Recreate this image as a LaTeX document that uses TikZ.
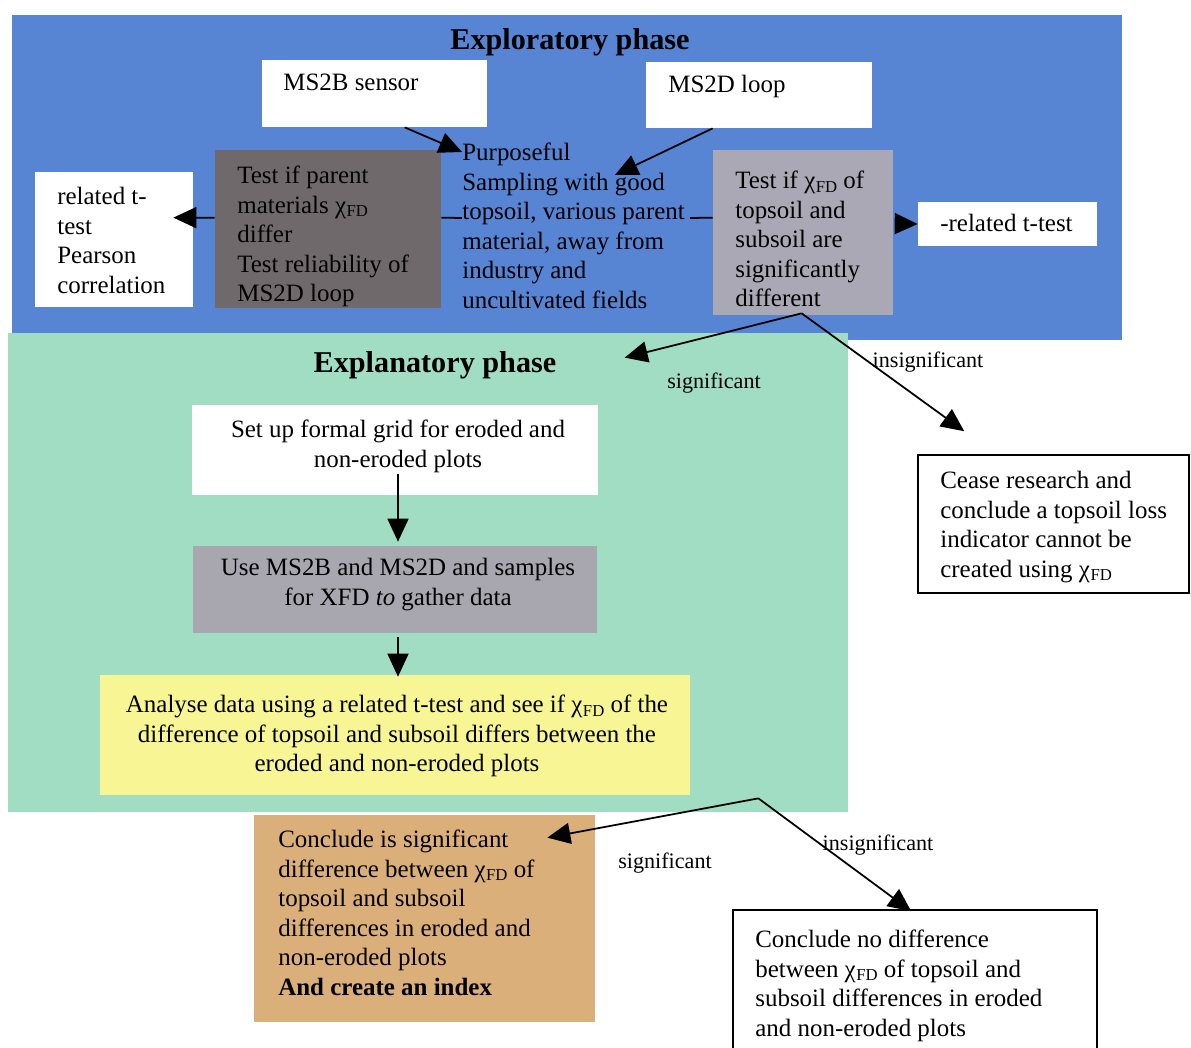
\documentclass[tikz,border=0pt]{standalone}
\usepackage{fontspec}
\setmainfont{Liberation Serif}
\usetikzlibrary{arrows.meta,fit,calc}

\definecolor{blueP}{RGB}{88,132,212}
\definecolor{greenP}{RGB}{161,221,194}
\definecolor{darkG}{RGB}{112,105,108}
\definecolor{lightG}{RGB}{170,168,180}
\definecolor{midG}{RGB}{168,167,176}
\definecolor{yellowP}{RGB}{248,245,148}
\definecolor{tanP}{RGB}{219,175,121}

% chi with FD subscript
\newcommand\chifd{χ\kern0.3pt\raisebox{-0.3ex}{\fontsize{9.5}{9.5}\selectfont FD}}

\begin{document}
\begin{tikzpicture}[x=0.02cm,y=-0.02cm,
  area/.style={inner sep=0, draw=none},
  box/.style={inner sep=0, draw=none},
  framed/.style={inner sep=0, draw=black, line width=0.9pt, fill=white},
  txt/.style={inner sep=0, anchor=north west, align=left, font=\fontsize{14.2}{16.8}\selectfont},
  ctxt/.style={inner sep=0, anchor=north, align=center, font=\fontsize{14.2}{16.8}\selectfont},
  title/.style={inner sep=0, font=\bfseries\fontsize{17.2}{20}\selectfont},
  lbl/.style={inner sep=0, font=\fontsize{12.6}{14}\selectfont},
  arr/.style={-{Triangle[length=0.46cm,width=0.42cm]}, line width=1pt},
  conn/.style={line width=1pt}]

\clip (0,0) rectangle (1191,1048);
\fill[white] (0,0) rectangle (1191,1048);

% phase panels
\node[area, fill=blueP, fit={(12,15) (1122,340)}] (explo) {};
\node[area, fill=greenP, fit={(8,333) (848,812)}] (expla) {};

\node[title] (t1) at (570,42) {Exploratory phase};
\node[title] (t2) at (435,365) {Explanatory phase};

% exploratory boxes
\node[box, fill=white, fit={(262,60) (487,127)}] (ms2b) {};
\node[txt] (ms2bT) at (283,74) {MS2B sensor};
\node[box, fill=white, fit={(646,62) (872,128)}] (ms2d) {};
\node[txt] (ms2dT) at (668,75) {MS2D loop};

\node[box, fill=darkG, fit={(215,150) (441,308)}] (parent) {};
\node[txt] (parentT) at (237,166) {Test if parent\\materials \chifd\\differ\\Test reliability of\\MS2D loop};

\node[box, fill=white, fit={(35,172) (193,307)}] (related) {};
\node[txt] (relatedT) at (57,187) {related t-\\test\\Pearson\\correlation};

\node[txt] (purp) at (462,143) {Purposeful\\Sampling with good\\topsoil, various parent\\material, away from\\industry and\\uncultivated fields};

\node[box, fill=lightG, fit={(713,150) (893,315)}] (testif) {};
\node[txt] (testifT) at (735,171) {Test if \chifd\ of\\topsoil and\\subsoil are\\significantly\\different};

\node[box, fill=white, fit={(918,202) (1097,246)}] (rel2) {};
\node[txt] (rel2T) at (940,214) {-related t-test};

% explanatory boxes
\node[box, fill=white, fit={(192,405) (598,495)}] (setup) {};
\node[ctxt] (setupT) at (398,420) {Set up formal grid for eroded and\\non-eroded plots};

\node[box, fill=midG, fit={(193,546) (597,633)}] (use) {};
\node[ctxt] (useT) at (398,558) {Use MS2B and MS2D and samples\\for XFD \textit{to} gather data};

\node[box, fill=yellowP, fit={(100,675) (690,795)}] (analyse) {};
\node[ctxt] (analyseT) at (397,695) {Analyse data using a related t-test and see if \chifd\ of the\\difference of topsoil and subsoil differs between the\\eroded and non-eroded plots};

\node[box, fill=tanP, fit={(254,815) (595,1022)}] (concl) {};
\node[txt] (conclT) at (278,830) {Conclude is significant\\difference between \chifd\ of\\topsoil and subsoil\\differences in eroded and\\non-eroded plots\\\textbf{And create an index}};

\node[framed, fit={(918,455) (1189,593)}] (cease) {};
\node[txt] (ceaseT) at (940,471) {Cease research and\\conclude a topsoil loss\\indicator cannot be\\created using \chifd};

\node[framed, fit={(733,910) (1097,1070)}] (nodiff) {};
\node[txt] (nodiffT) at (755,930) {Conclude no difference\\between \chifd\ of topsoil and\\subsoil differences in eroded\\and non-eroded plots};

% connectors
\draw[arr] ($(ms2b.south west)+(143,0)$) -- ($(purp.north west)+(0,9)$);
\draw[arr] ($(ms2d.south west)+(67,0)$) -- ($(purp.north west)+(153,32)$);
\draw[arr] ($(parent.north west)+(0,68)$) -- ($(related.north east)+(-20,46)$);
\draw[conn] ($(parent.north east)+(0,68)$) -- ($(purp.north west)+(0,75)$);
\draw[conn] ($(purp.north west)+(228,75)$) -- ($(testif.north west)+(0,68)$);
\draw[arr] ($(testif.north east)+(2,74)$) -- (rel2.west);

\coordinate (fork1) at ($(testif.south west)+(89,-2)$);
\coordinate (sigEnd) at ($(expla.north west)+(617,25)$);
\draw[arr] (fork1) -- (sigEnd);
\draw[arr] (fork1) -- ($(cease.north west)+(47,-23)$);
\node[lbl] (sig1) at (714,383) {significant};
\node[lbl] (insig1) at (928,362) {insignificant};

\draw[arr] ($(setup.south)+(3,-21)$) -- ($(use.north)+(3,-4)$);
\draw[arr] ($(use.south)+(3,4)$) -- ($(analyse.north)+(3,2)$);

\coordinate (fork2) at ($(analyse.south east)+(68,3)$);
\draw[arr] (fork2) -- ($(concl.north east)+(-48,23)$);
\draw[arr] (fork2) -- ($(nodiff.north west)+(179,2)$);
\node[lbl] (sig2) at (665,863) {significant};
\node[lbl] (insig2) at (878,845) {insignificant};

\end{tikzpicture}
\end{document}
